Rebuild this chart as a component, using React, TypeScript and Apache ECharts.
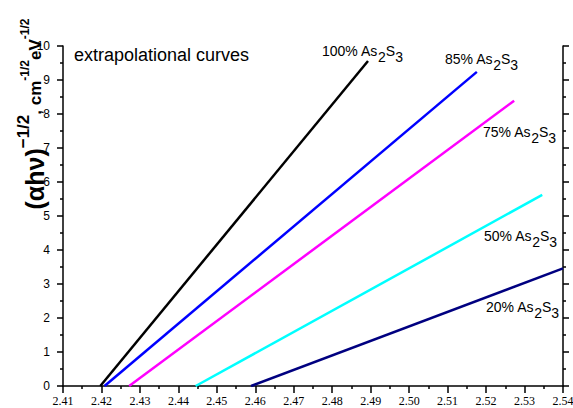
import React, { useEffect, useRef } from "react";
import * as echarts from "echarts";

// x ranges (photon energy, eV) and y ranges for each extrapolation line
const series100X = [2.4197, 2.4893];
const series100Y = [0, 9.56];
const series85X = [2.4208, 2.5176];
const series85Y = [0, 9.24];
const series75X = [2.4272, 2.5273];
const series75Y = [0, 8.39];
const series50X = [2.4445, 2.5346];
const series50Y = [0, 5.62];
const series20X = [2.4589, 2.54];
const series20Y = [0, 3.46];

const seriesNames = ["100%", "85%", "75%", "50%", "20%"];
const seriesColors = ["#000000", "#0000FF", "#FF00FF", "#00FFFF", "#000080"];

const xMin = 2.41;
const xMax = 2.54;
const xStep = 0.01;
const yMin = 0;
const yMax = 10;
const yStep = 1;

const SANS = "Liberation Sans, Arial, Helvetica, sans-serif";
const SERIF = "Liberation Serif, Times New Roman, serif";

function pairs(xs: number[], ys: number[]) {
  return xs.map((x, i) => [x, ys[i]]);
}

export default function App() {
  const ref = useRef<HTMLDivElement>(null);
  useEffect(() => {
    if (!ref.current) return;
    const chart = echarts.init(ref.current, null, { renderer: "svg" });
    const allX = [series100X, series85X, series75X, series50X, series20X];
    const allY = [series100Y, series85Y, series75Y, series50Y, series20Y];

    const labelRich = {
      a: { fontSize: 14, fontFamily: SANS, fill: "#000" },
      s: { fontSize: 14, fontFamily: SANS, fill: "#000", padding: [12, 0, 0, 0] },
    };
    const mkLabel = (pct: string, x: number, y: number) => ({
      type: "text",
      x,
      y,
      silent: true,
      style: {
        text: `{a|${pct} As}{s|2}{a|S}{s|3}`,
        rich: labelRich,
        align: "left",
        verticalAlign: "middle",
      },
    });

    const axisLineStyle = { color: "#000", width: 1.5 };
    const tickStyle = { color: "#000", width: 1.5 };

    const yAxisBase = {
      type: "value",
      min: yMin,
      max: yMax,
      interval: yStep,
      splitLine: { show: false },
      axisLine: { show: true, onZero: false, lineStyle: axisLineStyle },
      axisTick: { show: true, inside: false, length: 6, lineStyle: tickStyle },
      minorTick: { show: true, splitNumber: 2, length: 3, lineStyle: tickStyle },
      minorSplitLine: { show: false },
    };

    chart.setOption({
      animation: false,
      backgroundColor: "#fff",
      grid: {
        left: 63,
        right: 10,
        top: 46,
        bottom: 22,
        containLabel: false,
        outerBoundsMode: "none",
      },
      xAxis: {
        type: "value",
        min: xMin,
        max: xMax,
        interval: xStep,
        splitLine: { show: false },
        axisLine: { show: true, onZero: false, lineStyle: axisLineStyle },
        axisTick: { show: true, inside: false, length: 7, lineStyle: tickStyle },
        minorTick: { show: true, splitNumber: 2, length: 3, lineStyle: tickStyle },
        axisLabel: {
          show: true,
          color: "#000",
          fontFamily: SERIF,
          fontSize: 12,
          margin: 9,
          showMinLabel: true,
          showMaxLabel: true,
          hideOverlap: false,
          formatter: (v: number) => v.toFixed(2),
        },
      },
      yAxis: [
        {
          ...yAxisBase,
          position: "left",
          axisLabel: { color: "#000", fontFamily: SANS, fontSize: 12, margin: 13 },
        },
        {
          ...yAxisBase,
          position: "right",
          axisLabel: { show: false },
        },
      ],
      series: allX.map((xs, i) => ({
        name: seriesNames[i],
        type: "line",
        data: pairs(xs, allY[i]),
        showSymbol: false,
        symbol: "none",
        clip: true,
        lineStyle: { color: seriesColors[i], width: 2.5 },
        itemStyle: { color: seriesColors[i] },
      })),
      graphic: [
        {
          type: "text",
          x: 74,
          y: 55,
          silent: true,
          style: {
            text: "extrapolational curves",
            fontSize: 18,
            fontFamily: SANS,
            fill: "#000",
            align: "left",
            verticalAlign: "middle",
          },
        },
        mkLabel("100%", 322, 51),
        mkLabel("85%", 445, 59),
        mkLabel("75%", 483, 132),
        mkLabel("50%", 484, 236),
        mkLabel("20%", 486, 307),
        {
          type: "text",
          x: 35,
          y: 114,
          rotation: Math.PI / 2,
          silent: true,
          style: {
            text: "{b|(αhν)}{s1|−1/2}{m|, cm}{s2|-1/2}{m|eV}{s2|-1/2}",
            align: "center",
            verticalAlign: "middle",
            rich: {
              b: { fontSize: 25, fontWeight: "bold", fontFamily: SANS, fill: "#000" },
              s1: {
                fontSize: 17,
                fontWeight: "bold",
                fontFamily: SANS,
                fill: "#000",
                padding: [0, 0, 24, 0],
              },
              m: { fontSize: 17, fontWeight: "bold", fontFamily: SANS, fill: "#000" },
              s2: {
                fontSize: 12,
                fontWeight: "bold",
                fontFamily: SANS,
                fill: "#000",
                padding: [0, 0, 20, 0],
              },
            },
          },
        },
      ],
    });
    return () => chart.dispose();
  }, []);
  return (
    <div
      ref={ref}
      style={{ position: "fixed", left: 0, top: 0, width: 573, height: 408, background: "#fff" }}
    />
  );
}
